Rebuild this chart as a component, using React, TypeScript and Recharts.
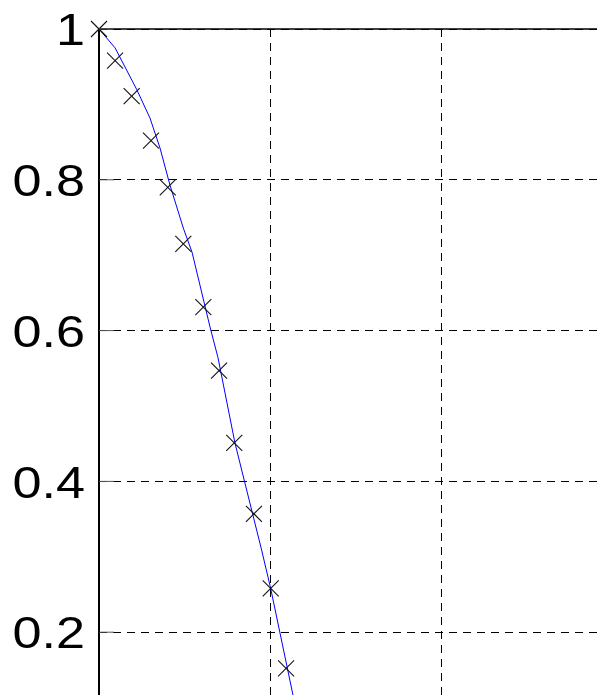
import { CartesianGrid, ComposedChart, Line, Scatter, XAxis, YAxis } from "recharts";

// measured points (x markers)
const markerX = [0, 0.094, 0.191, 0.304, 0.402, 0.493, 0.61, 0.702, 0.791, 0.906, 1.004, 1.094];
const markerY = [1.0, 0.958, 0.911, 0.852, 0.79, 0.715, 0.631, 0.547, 0.451, 0.357, 0.258, 0.152];

// model curve (blue line)
const curveX = [0, 0.094, 0.22, 0.298, 0.357, 0.415, 0.493, 0.544, 0.649, 0.696, 0.795, 0.951, 1.004, 1.135, 1.205];
const curveY = [1.0, 0.975, 0.92, 0.882, 0.842, 0.793, 0.736, 0.704, 0.605, 0.564, 0.451, 0.309, 0.258, 0.116, 0.05];

const xTicks = [0, 1, 2, 3, 4];
const yTicks = [0, 0.2, 0.4, 0.6, 0.8, 1];
const yLabels = ["0", "0.2", "0.4", "0.6", "0.8", "1"];

const markers = markerX.map((x, i) => ({ x, y: markerY[i] }));
const curve = curveX.map((x, i) => ({ x, y: curveY[i] }));

const Cross = (props: any) => {
  const { cx, cy } = props;
  const s = 8;
  return (
    <g stroke="#111" strokeWidth={1.1}>
      <line x1={cx - s} y1={cy - s} x2={cx + s} y2={cy + s} />
      <line x1={cx - s} y1={cy + s} x2={cx + s} y2={cy - s} />
    </g>
  );
};

const YTick = (props: any) => {
  const { x, y, payload } = props;
  const i = yTicks.indexOf(payload.value);
  const ax = x + 14;
  return (
    <g>
      <line x1={ax} y1={y} x2={ax + 15} y2={y} stroke="#555" strokeWidth={1} />
      <text
        x={x}
        y={y}
        dy="0.36em"
        textAnchor="end"
        fontFamily="'Liberation Sans', Arial, sans-serif"
        fontSize={45}
        fill="#000"
        transform={`translate(${x},0) scale(1.16,1) translate(${-x},0)`}
      >
        {i >= 0 ? yLabels[i] : payload.value}
      </text>
    </g>
  );
};

const TopTick = (props: any) => {
  const { x, y } = props;
  return <line x1={x} y1={y} x2={x} y2={y + 15} stroke="#555" strokeWidth={1} />;
};

export default function App() {
  return (
    <div style={{ position: "absolute", left: 0, top: 0, width: 597, height: 695, overflow: "hidden", background: "#fff" }}>
      <ComposedChart width={793} height={788} margin={{ top: 28, right: 10, bottom: 5, left: 0 }}>
        <CartesianGrid stroke="#000" strokeDasharray="8 6" strokeWidth={1} shapeRendering="crispEdges" />
        <XAxis dataKey="x" type="number" domain={[0, 4]} ticks={xTicks} hide />
        <XAxis
          xAxisId="top"
          orientation="top"
          type="number"
          domain={[0, 4]}
          ticks={xTicks}
          axisLine={{ stroke: "#000", strokeWidth: 1.5 }}
          tickLine={false}
          tickSize={0}
          tickMargin={0}
          tick={<TopTick />}
          height={1}
        />
        <YAxis
          type="number"
          domain={[0, 1]}
          ticks={yTicks}
          width={99}
          axisLine={{ stroke: "#000", strokeWidth: 2, shapeRendering: "crispEdges" }}
          tickLine={false}
          tickSize={0}
          tickMargin={14}
          tick={<YTick />}
        />
        <Line data={curve} dataKey="y" type="linear" stroke="#0000ff" strokeWidth={1} dot={false} isAnimationActive={false} />
        <Scatter data={markers} dataKey="y" shape={<Cross />} isAnimationActive={false} />
      </ComposedChart>
    </div>
  );
}
